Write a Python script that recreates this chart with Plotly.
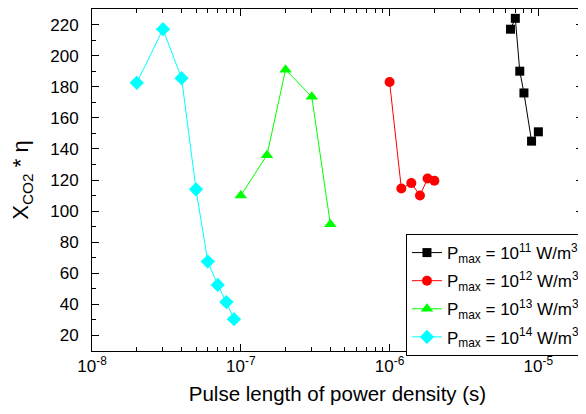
import plotly.graph_objects as go

# Data
x_1e11 = [6.5e-6, 7.0e-6, 7.5e-6, 8.0e-6, 9.0e-6, 1.0e-5]
y_1e11 = [217, 224, 190, 176, 145, 151]

x_1e12 = [1.0e-6, 1.2e-6, 1.4e-6, 1.6e-6, 1.8e-6, 2.0e-6]
y_1e12 = [183, 114.5, 118, 110, 121, 119.5]

x_1e13 = [1.0e-7, 1.5e-7, 2.0e-7, 3.0e-7, 4.0e-7]
y_1e13 = [110, 136, 191, 173.5, 91.5]

x_1e14 = [2e-8, 3e-8, 4e-8, 5e-8, 6e-8, 7e-8, 8e-8, 9e-8]
y_1e14 = [182.5, 217, 185.5, 114, 67.5, 52.5, 41.5, 30.5]

series_names = [
    "P<sub>max</sub> = 10<sup>11</sup> W/m<sup>3</sup>",
    "P<sub>max</sub> = 10<sup>12</sup> W/m<sup>3</sup>",
    "P<sub>max</sub> = 10<sup>13</sup> W/m<sup>3</sup>",
    "P<sub>max</sub> = 10<sup>14</sup> W/m<sup>3</sup>",
]
x_tickvals = [1e-8, 1e-7, 1e-6, 1e-5]
x_ticktext = ["10<sup>-8</sup>", "10<sup>-7</sup>", "10<sup>-6</sup>", "10<sup>-5</sup>"]

colors = ["#000000", "#FF0000", "#00FF00", "#00FFFF"]
symbols = ["square", "circle", "triangle-up", "diamond"]
sizes = [9, 10, 11, 11]
xs = [x_1e11, x_1e12, x_1e13, x_1e14]
ys = [y_1e11, y_1e12, y_1e13, y_1e14]

FONT = "Liberation Sans, Arial, sans-serif"

fig = go.Figure()
for i, (xv, yv, name, c, s, sz) in enumerate(zip(xs, ys, series_names, colors, symbols, sizes)):
    fig.add_trace(go.Scatter(
        x=xv, y=yv, name=name, mode="lines+markers", legendgroup=f"g{i}",
        line=dict(color=c, width=1),
        marker=dict(color=c, symbol=s, size=sz, line=dict(width=0)),
    ))

minor_x = [m * 10.0**e for e in range(-8, -4) for m in range(2, 10)]

# The page body has an 8px margin, so the figure is drawn 8px smaller
fig.update_layout(
    width=578, height=406,
    margin=dict(l=84, r=3, t=1, b=63, autoexpand=False),
    plot_bgcolor="white", paper_bgcolor="white",
    font=dict(family=FONT, size=17, color="black"),
    showlegend=True,
    legend=dict(
        x=1.004, y=0.342, xanchor="right", yanchor="top",
        bordercolor="black", borderwidth=1, bgcolor="white",
        font=dict(family=FONT, size=17, color="black"),
        tracegroupgap=3, itemwidth=30,
    ),
    xaxis=dict(
        type="log", range=[-8, -4.70], automargin=False,
        tickmode="array", tickvals=x_tickvals, ticktext=x_ticktext,
        ticks="inside", ticklen=7, tickwidth=1, tickcolor="black",
        showline=True, linecolor="black", linewidth=1, mirror="ticks",
        showgrid=False, zeroline=False,
        tickfont=dict(family=FONT, size=17),
        minor=dict(tickmode="array", tickvals=minor_x, ticks="inside",
                   ticklen=4, tickwidth=1, tickcolor="black", showgrid=False),
        title=dict(text="Pulse length of power density (s)",
                   font=dict(family=FONT, size=20.5), standoff=11),
    ),
    yaxis=dict(
        range=[10, 230], tick0=0, dtick=20, automargin=False,
        ticks="inside", ticklen=7, tickwidth=1, tickcolor="black",
        showline=True, linecolor="black", linewidth=1, mirror="ticks",
        showgrid=False, zeroline=False, ticklabelstandoff=9,
        tickfont=dict(family=FONT, size=17),
        minor=dict(dtick=10, ticks="inside", ticklen=4, tickwidth=1,
                   tickcolor="black", showgrid=False),
        title=dict(text="X<sub>CO2</sub> * η",
                   font=dict(family=FONT, size=22)),
    ),
)

fig.write_html("out.html")
